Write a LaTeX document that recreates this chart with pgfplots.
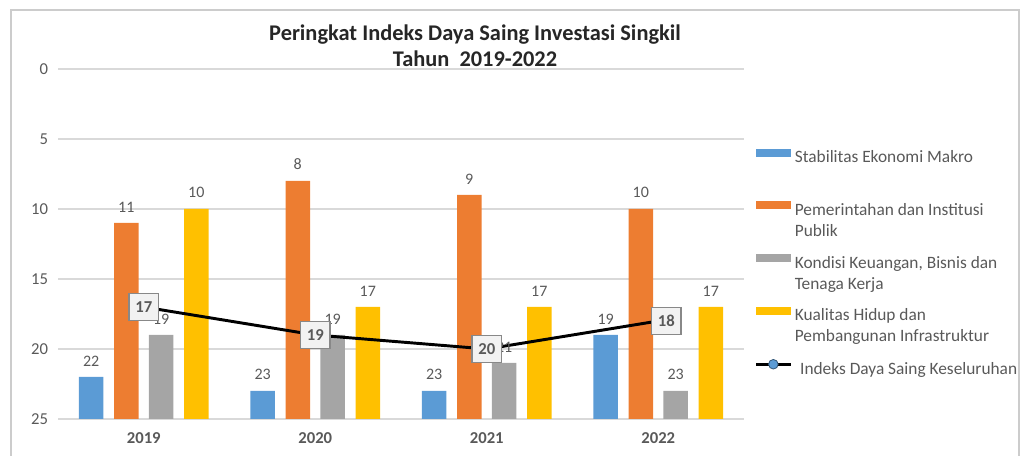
\documentclass[border=0pt]{standalone}
\usepackage{pgfplots}
\pgfplotsset{compat=1.18}
\usepackage{pgfplotstable}
\usepackage{fontspec}
\setmainfont{Carlito}
\definecolor{cblue}{HTML}{5B9BD5}
\definecolor{corange}{HTML}{ED7D31}
\definecolor{cgray}{HTML}{A5A5A5}
\definecolor{cyellow}{HTML}{FFC000}
\definecolor{txt}{HTML}{595959}
\definecolor{gridc}{HTML}{D9D9D9}
\definecolor{framec}{HTML}{CCCCCC}
\definecolor{boxfill}{HTML}{F2F2F2}
\definecolor{boxdraw}{HTML}{888888}

\pgfplotsset{
  barleg/.style={legend image code/.code={\fill[##1,draw=none] (0pt,10pt) rectangle (26pt,16pt);}},
  lineleg/.style={legend image code/.code={\draw[##1,mark repeat=2,mark phase=2] plot coordinates {(0pt,13pt)(13pt,13pt)(26pt,13pt)};}},
}

\pgfplotstableread{
x year a b c d total dx
0 2019 22 11 19 10 17 0
1 2020 23 8 19 17 19 0
2 2021 23 9 21 17 20 0
3 2022 19 10 23 17 18 6
}\data

\newcommand\lgtxt[2]{\parbox[t]{175pt}{\raggedright #1\\#2}}

\begin{document}
\begin{tikzpicture}
\path[use as bounding box] (0pt,0pt) rectangle (770.25pt,342pt);
\draw[framec, line width=1.4pt] (8.25pt,-5pt) -- (8.25pt,334.5pt) -- (764.25pt,334.5pt) -- (764.25pt,-5pt);
\node[align=center, font=\fontsize{16.8}{19.5}\selectfont\bfseries, text=black!85, anchor=base, inner sep=0pt] at (356.25pt,291.75pt) {Peringkat Indeks Daya Saing Investasi Singkil\\Tahun\ \ 2019-2022};
\begin{axis}[
  at={(43.5pt,27.75pt)}, anchor=south west,
  scale only axis, width=514.5pt, height=262.5pt,
  xmin=-0.5, xmax=3.5, ymin=0, ymax=25,
  xtick={0,1,2,3}, xticklabels={2019,2020,2021,2022},
  ytick={0,5,10,15,20,25}, yticklabels={25,20,15,10,5,0},
  major tick length=0pt,
  axis line style={draw=none},
  ymajorgrids, grid style={gridc, line width=0.8pt},
  /pgf/number format/assume math mode=true,
  xticklabel style={font=\fontsize{12.5}{14}\selectfont\bfseries, text=txt, yshift=-7pt},
  yticklabel style={font=\fontsize{12.5}{14}\selectfont, text=txt, xshift=-4pt},
  clip=false,
  legend style={at={(axis description cs:1.015,0.773)}, anchor=north west, draw=none, fill=none,
    inner sep=0pt, row sep=8pt, column sep=1pt,
    font=\fontsize{13}{15.75}\selectfont, text=txt,
    nodes={inner sep=1pt, text depth=20pt}},
  legend cell align=left,
]
\addplot[ybar, bar width=18.4pt, bar shift=-39.4pt, fill=cblue, draw=none, barleg,
  point meta=explicit, nodes near coords,
  nodes near coords style={font=\fontsize{12}{13}\selectfont, text=txt, inner sep=0pt, yshift=8pt, xshift=-39.4pt}]
  table[x=x, y expr=25-\thisrow{a}, meta=a]{\data};
\addlegendentry{\lgtxt{Stabilitas Ekonomi Makro}{\mbox{}}}
\addplot[ybar, bar width=18.4pt, bar shift=-13.1pt, fill=corange, draw=none, barleg,
  point meta=explicit, nodes near coords,
  nodes near coords style={font=\fontsize{12}{13}\selectfont, text=txt, inner sep=0pt, yshift=8pt, xshift=-13.1pt}]
  table[x=x, y expr=25-\thisrow{b}, meta=b]{\data};
\addlegendentry{\lgtxt{Pemerintahan dan Institusi}{Publik}}
\addplot[ybar, bar width=18.4pt, bar shift=13.1pt, fill=cgray, draw=none, barleg,
  point meta=explicit, nodes near coords,
  nodes near coords style={font=\fontsize{12}{13}\selectfont, text=txt, inner sep=0pt, yshift=8pt, xshift=13.1pt}]
  table[x=x, y expr=25-\thisrow{c}, meta=c]{\data};
\addlegendentry{\lgtxt{Kondisi Keuangan, Bisnis dan}{Tenaga Kerja}}
\addplot[ybar, bar width=18.4pt, bar shift=39.4pt, fill=cyellow, draw=none, barleg,
  point meta=explicit, nodes near coords,
  nodes near coords style={font=\fontsize{12}{13}\selectfont, text=txt, inner sep=0pt, yshift=8pt, xshift=39.4pt}]
  table[x=x, y expr=25-\thisrow{d}, meta=d]{\data};
\addlegendentry{\lgtxt{Kualitas Hidup dan}{Pembangunan Infrastruktur}}
\addplot[black, line width=2.2pt, mark=*, mark size=3.6pt,
  mark options={fill=cblue, draw=cblue!55!black, line width=0.6pt},
  lineleg,
  point meta=explicit,
  visualization depends on={\thisrow{dx} \as \dx},
  nodes near coords,
  nodes near coords style={anchor=center, yshift=0pt, xshift=\dx pt, font=\fontsize{12.5}{14}\selectfont\bfseries, text=txt,
    fill=boxfill, draw=boxdraw, line width=1.2pt, minimum width=22pt, minimum height=20pt, inner sep=2pt}]
  table[x=x, y expr=25-\thisrow{total}, meta=total]{\data};
\addlegendentry{\lgtxt{\hspace{4pt}Indeks Daya Saing Keseluruhan}{\mbox{}}}
\end{axis}
\end{tikzpicture}
\end{document}
